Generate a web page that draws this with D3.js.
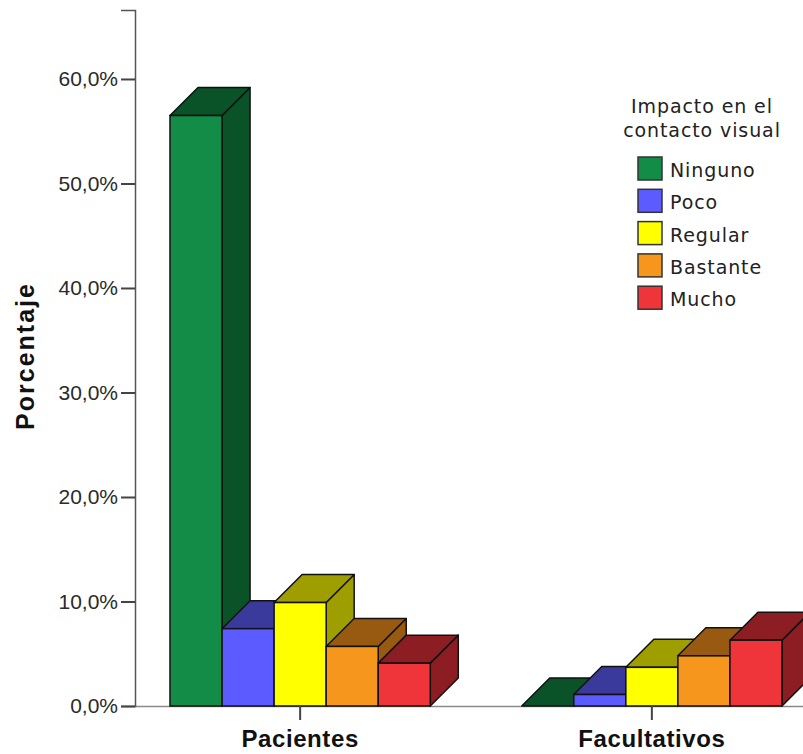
<!DOCTYPE html>
<html>
<head>
<meta charset="utf-8">
<script src="https://cdn.jsdelivr.net/npm/d3@7"></script>
<style>
  body { margin: 0; background: #fff; }
  svg { display: block; }
  .yaxis text { font-family: "Liberation Sans", Arial, sans-serif; font-size: 21px; fill: #2a2a2a; }
</style>
</head>
<body>
<svg id="chart" width="803" height="754"></svg>
<script>
// data
var groups = ["Pacientes", "Facultativos"];
var series = ["Ninguno", "Poco", "Regular", "Bastante", "Mucho"];
var pacientes = [56.5, 7.4, 9.9, 5.7, 4.1];
var facultativos = [0, 1.1, 3.7, 4.8, 6.3];
var yTicks = [0, 10, 20, 30, 40, 50, 60];
var legendTitle = ["Impacto en el", "contacto visual"];

var frontColors = ["#138c48", "#5b5bff", "#ffff00", "#f7961d", "#ef343a"];
var darkColors = ["#0a5228", "#3a3a9d", "#9e9e00", "#975a10", "#8c1d22"];

var rows = [pacientes, facultativos];
var svg = d3.select("#chart");
var depth = 28;

var locale = d3.formatLocale({decimal: ",", thousands: ".", grouping: [3], currency: ["", "€"]});
var fmt = locale.format(".1f");

var y = d3.scaleLinear().domain([0, 66.6]).range([706, 10]);
var x0 = d3.scaleBand().domain(groups).range([170, 782]).paddingInner(0.26).paddingOuter(0);
var x1 = d3.scaleBand().domain(series).range([0, x0.bandwidth()]).padding(0);

// baseline
svg.append("line")
    .attr("x1", 135).attr("x2", 803)
    .attr("y1", y(0) + 0.5).attr("y2", y(0) + 0.5)
    .attr("stroke", "#8a8a8a").attr("stroke-width", 1.5);

// bars, drawn left to right so later ones sit on top
groups.forEach(function (g, gi) {
    series.forEach(function (s, si) {
        var v = rows[gi][si];
        var bx = x0(g) + x1(s), bw = x1.bandwidth();
        var yt = y(v), yb = y(0);
        var bar = svg.append("g").attr("class", "bar");
        bar.append("path")
            .attr("d", "M" + (bx + bw) + "," + yt + " L" + (bx + bw + depth) + "," + (yt - depth) +
                " L" + (bx + bw + depth) + "," + (yb - depth) + " L" + (bx + bw) + "," + yb + " Z")
            .attr("fill", darkColors[si]).attr("stroke", "#111").attr("stroke-width", 1.5)
            .attr("stroke-linejoin", "round");
        bar.append("path")
            .attr("d", "M" + bx + "," + yt + " L" + (bx + depth) + "," + (yt - depth) +
                " L" + (bx + bw + depth) + "," + (yt - depth) + " L" + (bx + bw) + "," + yt + " Z")
            .attr("fill", darkColors[si]).attr("stroke", "#111").attr("stroke-width", 1.5)
            .attr("stroke-linejoin", "round");
        bar.append("rect")
            .attr("x", bx).attr("y", yt)
            .attr("width", bw).attr("height", yb - yt)
            .attr("fill", frontColors[si]).attr("stroke", "#111").attr("stroke-width", 1.5);
    });
});

// y axis
var yAxis = d3.axisLeft(y).tickValues(yTicks).tickSize(14).tickPadding(3)
    .tickFormat(function (d) { return fmt(d) + "%"; });
var ga = svg.append("g")
    .attr("class", "yaxis")
    .attr("transform", "translate(135,0)")
    .call(yAxis);
ga.select(".domain").attr("stroke", "#555").attr("stroke-width", 1.5);
ga.selectAll(".tick line").attr("stroke", "#444").attr("stroke-width", 2);

// category ticks and labels
groups.forEach(function (g) {
    var cx = x0(g) + x0.bandwidth() / 2;
    svg.append("line")
        .attr("x1", cx).attr("x2", cx).attr("y1", y(0)).attr("y2", y(0) + 14)
        .attr("stroke", "#444").attr("stroke-width", 2);
    svg.append("text")
        .attr("x", cx).attr("y", 747)
        .attr("text-anchor", "middle")
        .attr("font-family", "Liberation Sans, Arial, sans-serif")
        .attr("font-weight", "bold").attr("font-size", 24)
        .attr("letter-spacing", 0.6)
        .attr("fill", "#111")
        .text(g);
});

// y title
svg.append("text")
    .attr("transform", "translate(34,356) rotate(-90)")
    .attr("text-anchor", "middle")
    .attr("font-family", "Liberation Sans, Arial, sans-serif")
    .attr("font-weight", "bold").attr("font-size", 25)
    .attr("letter-spacing", 2)
    .attr("fill", "#111")
    .text("Porcentaje");

// legend
var legend = svg.append("g").attr("class", "legend");
legendTitle.forEach(function (t, i) {
    legend.append("text")
        .attr("x", 702).attr("y", 113 + i * 24)
        .attr("text-anchor", "middle")
        .attr("font-family", "DejaVu Sans, sans-serif").attr("font-size", 19)
        .attr("letter-spacing", 0.9)
        .attr("fill", "#222")
        .text(t);
});
series.forEach(function (s, i) {
    var ly = 157 + i * 32.3;
    legend.append("rect")
        .attr("x", 638).attr("y", ly).attr("width", 24).attr("height", 23)
        .attr("fill", frontColors[i]).attr("stroke", "#333").attr("stroke-width", 1.5);
    legend.append("text")
        .attr("x", 670).attr("y", ly + 20)
        .attr("font-family", "DejaVu Sans, sans-serif").attr("font-size", 19)
        .attr("letter-spacing", 0.9)
        .attr("fill", "#222")
        .text(s);
});
</script>
</body>
</html>
